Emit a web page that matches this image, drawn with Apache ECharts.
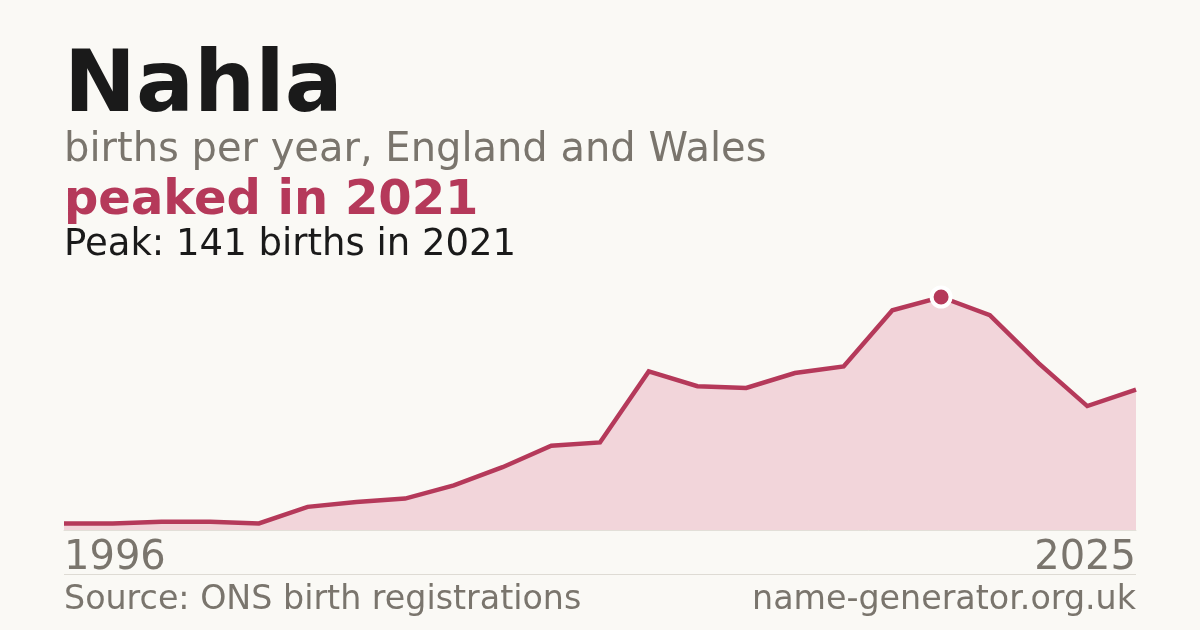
<!DOCTYPE html>
<html>
<head>
<meta charset="utf-8">
<script src="https://cdn.jsdelivr.net/npm/echarts@6/dist/echarts.min.js"></script>
<style>
html,body{margin:0;padding:0;background:#faf9f5;}
#c{width:1200px;height:630px;}
</style>
</head>
<body>
<div id="c"></div>
<script>
const years = ['1996','2004','2005','2006','2007','2008','2009','2010','2011','2012','2013','2014','2015','2016','2017','2018','2019','2020','2021','2022','2023','2024','2025'];
const births = [4,4,5,5,4,14,17,19,27,38,51,53,96,87,86,95,99,133,141,130,101,75,85];
const peakYear = '2021';
const peakValue = 141;

const FONT = 'DejaVu Sans';
const RED = '#b5395a';
const GREY = '#7a756d';

const chart = echarts.init(document.getElementById('c'), null, {renderer:'canvas'});
const lastIdx = years.length - 1;
chart.setOption({
  backgroundColor: '#faf9f5',
  animation: false,
  grid: {left: 64, right: 64, top: 297, bottom: 100},
  xAxis: {
    type: 'category',
    data: years,
    boundaryGap: false,
    axisLine: {show: true, lineStyle: {color: '#e2dfd8', width: 1}},
    axisTick: {show: false},
    splitLine: {show: false},
    axisLabel: {
      interval: function(i){ return i === 0 || i === lastIdx; },
      fontFamily: FONT, fontSize: 40, color: GREY, lineHeight: 40, margin: 9,
      alignMinLabel: 'left', alignMaxLabel: 'right',
      showMinLabel: true, showMaxLabel: true
    }
  },
  yAxis: {
    type: 'value', min: 0, max: peakValue,
    show: false, splitLine: {show: false}
  },
  series: [{
    type: 'line',
    data: births,
    symbol: 'none',
    clip: false,
    lineStyle: {color: RED, width: 4.5, join: 'miter'},
    areaStyle: {color: '#f2d5da', opacity: 1},
    markPoint: {
      symbol: 'circle',
      symbolSize: 19,
      label: {show: false},
      itemStyle: {color: RED, borderColor: '#ffffff', borderWidth: 4},
      data: [{coord: [peakYear, peakValue]}]
    }
  }],
  graphic: [
    {type:'text', x: 64, y: 89, style:{text:'Nahla', font:'bold 86px "DejaVu Sans"', fill:'#1a1a1a', verticalAlign:'middle'}},
    {type:'text', x: 64, y: 150.5, style:{text:'births per year, England and Wales', font:'40px "DejaVu Sans"', fill:GREY, verticalAlign:'middle'}},
    {type:'text', x: 64, y: 202, style:{text:'peaked in ' + peakYear, font:'bold 48px "DejaVu Sans"', fill:RED, verticalAlign:'middle'}},
    {type:'text', x: 64, y: 245, style:{text:'Peak: ' + peakValue + ' births in ' + peakYear, font:'37px "DejaVu Sans"', fill:'#1a1a1a', verticalAlign:'middle'}},
    {type:'line', shape:{x1:64, y1:574.5, x2:1136, y2:574.5}, style:{stroke:'#dedbd4', lineWidth:1}},
    {type:'text', x: 64, y: 600.5, style:{text:'Source: ONS birth registrations', font:'33.3px "DejaVu Sans"', fill:GREY, verticalAlign:'middle'}},
    {type:'text', x: 1136, y: 600.5, style:{text:'name-generator.org.uk', font:'33.3px "DejaVu Sans"', fill:GREY, verticalAlign:'middle', align:'right'}}
  ]
});
</script>
</body>
</html>
